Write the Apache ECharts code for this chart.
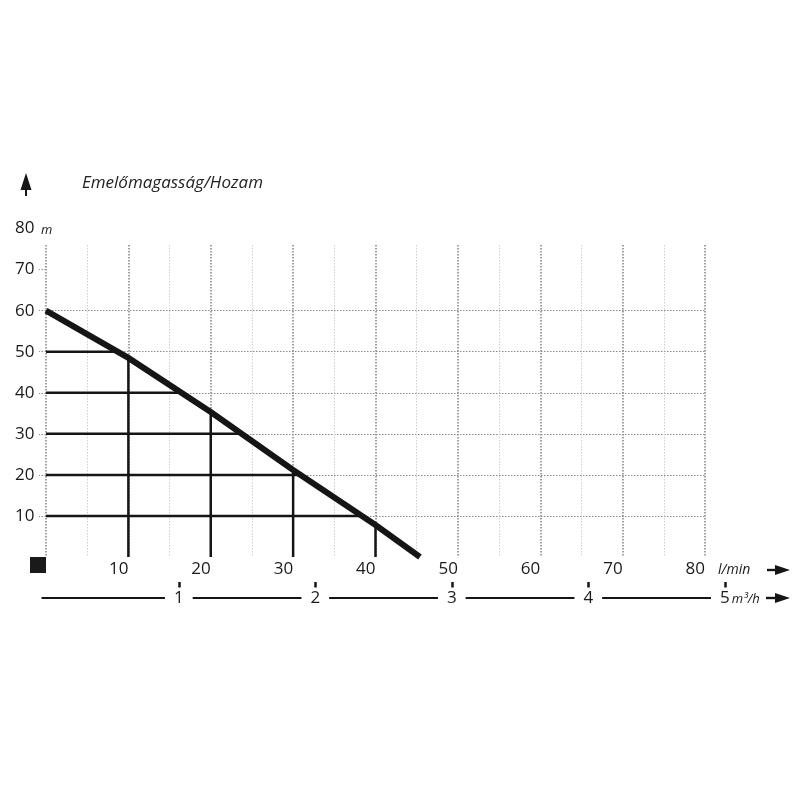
<!DOCTYPE html>
<html>
<head>
<meta charset="utf-8">
<script src="https://cdn.jsdelivr.net/npm/echarts@6/dist/echarts.min.js"></script>
<style>
html,body{margin:0;padding:0;background:#fff;}
#c{width:800px;height:800px;}
</style>
</head>
<body>
<div id="c"></div>
<script>
// ---- data ----
const titleText = 'Emelőmagasság/Hozam';
const flowTicksLmin = [10, 20, 30, 40, 50, 60, 70, 80];
const headTicks = [10, 20, 30, 40, 50, 60, 70];
const flowTicksM3h = [1, 2, 3, 4, 5];
const curveFlow = [0, 10, 20, 30, 40, 45.4];
const curveHead = [60, 48.5, 35.3, 21.2, 7.8, 0];
const levelHeads = [50, 40, 30, 20, 10];
const levelFlowAtCurve = [8.7, 16.4, 23.8, 30.9, 38.4];
const dropFlows = [10, 20, 30, 40];
const dropHeadAtCurve = [48.5, 35.3, 21.2, 7.8];

const FONT = '"Open Sans", "DejaVu Sans", sans-serif';
const INK = '#151515';

const series = [];
series.push({
  type: 'line', xAxisIndex: 0, yAxisIndex: 0, symbol: 'none', z: 10,
  data: curveFlow.map(function (x, i) { return [x, curveHead[i]]; }),
  lineStyle: { color: INK, width: 6, cap: 'butt', join: 'miter' }
});
levelHeads.forEach(function (h, i) {
  series.push({
    type: 'line', xAxisIndex: 0, yAxisIndex: 0, symbol: 'none', z: 5,
    data: [[0, h], [levelFlowAtCurve[i], h]],
    lineStyle: { color: INK, width: 2.5 }
  });
});
dropFlows.forEach(function (f, i) {
  series.push({
    type: 'line', xAxisIndex: 0, yAxisIndex: 0, symbol: 'none', z: 5,
    data: [[f, 0], [f, dropHeadAtCurve[i]]],
    lineStyle: { color: INK, width: 2.5 }
  });
});

const chart = echarts.init(document.getElementById('c'), null, { renderer: 'canvas' });
chart.setOption({
  animation: false,
  backgroundColor: '#fff',
  textStyle: { fontFamily: FONT },
  grid: [
    { left: 46, right: 95, top: 245, bottom: 243 },
    { left: 42.3, right: 75.2, top: 587, height: 1 }
  ],
  xAxis: [
    {
      gridIndex: 0, type: 'value', min: 0, max: 80, interval: 10,
      axisLine: { show: false },
      axisTick: { show: false },
      axisLabel: {
        customValues: flowTicksLmin, align: 'right', margin: 4,
        fontSize: 17, color: '#1a1a1a', fontFamily: FONT
      },
      splitLine: { show: true, lineStyle: { color: '#8a8a8a', width: 1.6, type: [1.5, 1.5] } },
      minorTick: { show: false, splitNumber: 2 },
      minorSplitLine: { show: true, lineStyle: { color: '#cfcfcf', width: 1, type: [1.5, 1.5] } }
    },
    {
      gridIndex: 1, type: 'value', min: 0, max: 5, position: 'bottom',
      axisLine: { show: false },
      axisTick: { show: true, inside: true, length: 6, customValues: flowTicksM3h,
        lineStyle: { color: INK, width: 2.5 } },
      axisLabel: { show: false },
      splitLine: { show: false }
    },
    {
      gridIndex: 1, type: 'value', min: 0, max: 5, position: 'bottom', offset: 10,
      axisLine: { show: true, lineStyle: { color: INK, width: 2 } },
      axisTick: { show: false },
      axisLabel: {
        customValues: flowTicksM3h, verticalAlign: 'middle', margin: 0,
        backgroundColor: '#fff', padding: [2, 9, 2, 9],
        fontSize: 17, color: '#1a1a1a', fontFamily: FONT
      },
      splitLine: { show: false }
    }
  ],
  yAxis: [
    {
      gridIndex: 0, type: 'value', min: 0, max: 76, interval: 10,
      axisLine: { show: false },
      axisTick: { show: true, length: 7, customValues: headTicks,
        lineStyle: { color: '#8a8a8a', width: 1, type: [1.5, 1.5] } },
      axisLabel: {
        customValues: headTicks, align: 'left', margin: 31,
        fontSize: 17, color: '#1a1a1a', fontFamily: FONT
      },
      splitLine: { show: true, showMaxLine: false,
        lineStyle: { color: '#8a8a8a', width: 1, type: [1.5, 1.5] } }
    },
    { gridIndex: 1, type: 'value', min: 0, max: 1, show: false }
  ],
  series: series
});

// text/decoration graphics, positioned with the chart's own scale where relevant
const p80 = chart.convertToPixel({ gridIndex: 0 }, [0, 80]);
const p0 = chart.convertToPixel({ gridIndex: 0 }, [0, 0]);
const p80x = chart.convertToPixel({ gridIndex: 0 }, [80, 0]);
const pM5 = chart.convertToPixel({ xAxisIndex: 1, yAxisIndex: 1 }, [5, 0]);
const yLmin = p0[1] + 13;
const yM3h = 598;

chart.setOption({
  graphic: [
    { type: 'text', z: 100, left: 82, top: 175, style: { text: titleText, font: 'italic 17px ' + FONT, fill: '#222' } },
    { type: 'polygon', z: 100, shape: { points: [[26, 173], [20.5, 190], [31.5, 190]] }, style: { fill: INK } },
    { type: 'rect', z: 100, shape: { x: 25, y: 188, width: 2, height: 8 }, style: { fill: INK } },
    { type: 'text', z: 100, x: 15, y: p80[1], style: { text: '80', font: '17px ' + FONT, fill: '#1a1a1a', verticalAlign: 'middle' } },
    { type: 'text', z: 100, x: 41, y: p80[1] + 2, style: { text: 'm', font: 'italic 13px ' + FONT, fill: '#1a1a1a', verticalAlign: 'middle' } },
    { type: 'rect', z: 100, shape: { x: p0[0] - 16, y: p0[1], width: 16, height: 16 }, style: { fill: '#1a1a1a' } },
    { type: 'text', z: 100, x: p80x[0] + 13, y: yLmin, style: { text: 'l/min', font: 'italic 14px ' + FONT, fill: '#1a1a1a', verticalAlign: 'middle' } },
    { type: 'rect', z: 100, shape: { x: 767, y: yLmin - 1.2, width: 10, height: 2.4 }, style: { fill: INK } },
    { type: 'polygon', z: 100, shape: { points: [[790, yLmin], [775, yLmin - 5], [775, yLmin + 5]] }, style: { fill: INK } },
    { type: 'text', z: 100, x: pM5[0] + 7, y: yM3h + 1, style: { text: 'm³/h', font: 'italic 13px ' + FONT, fill: '#1a1a1a', verticalAlign: 'middle' } },
    { type: 'rect', z: 100, shape: { x: 766, y: yM3h - 1.2, width: 11, height: 2.4 }, style: { fill: INK } },
    { type: 'polygon', z: 100, shape: { points: [[790, yM3h], [775, yM3h - 5], [775, yM3h + 5]] }, style: { fill: INK } }
  ]
});
</script>
</body>
</html>
